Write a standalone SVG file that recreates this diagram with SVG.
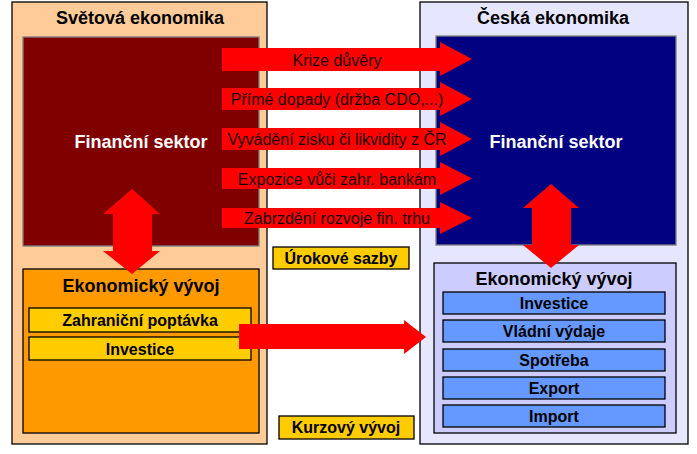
<svg xmlns="http://www.w3.org/2000/svg" width="697" height="454" viewBox="0 0 697 454">
<style>
.t{font-family:"Liberation Sans",Arial,sans-serif;text-anchor:middle}
.h{font-size:18px;font-weight:bold;fill:#000}
.w{font-size:18px;font-weight:bold;fill:#fff}
.b{font-size:16px;font-weight:bold;fill:#000}
.r{font-size:16px;fill:#1a0000}
.box{stroke:#000;stroke-width:1.3}
.arr{fill:#ff0000}
</style>
<rect width="697" height="454" fill="#fff"/>
<g id="svetova">
<rect x="12" y="2" width="255" height="442" fill="#ffcc99" class="box"/>
<text x="140" y="24" class="t h">Světová ekonomika</text>
</g>
<g id="svet-financni">
<rect x="23" y="37" width="236" height="209" fill="#800000" stroke="#808080" stroke-width="1.3"/>
<text x="141" y="148" class="t w">Finanční sektor</text>
</g>
<g id="svet-vyvoj">
<rect x="23" y="269" width="236" height="164" fill="#ff9900" class="box"/>
<text x="141" y="292" class="t h">Ekonomický vývoj</text>
</g>
<g id="zahr-poptavka">
<rect x="29" y="308" width="222" height="24" fill="#ffcc00" class="box"/>
<text x="140" y="326" class="t b">Zahraniční poptávka</text>
</g>
<g id="svet-investice">
<rect x="29" y="337" width="222" height="23" fill="#ffcc00" class="box"/>
<text x="140" y="355" class="t b">Investice</text>
</g>
<g id="ceska">
<rect x="420" y="2" width="268" height="442" fill="#e6e6ff" class="box"/>
<text x="553" y="24" class="t h">Česká ekonomika</text>
</g>
<g id="cz-financni">
<rect x="436" y="36" width="240" height="209" fill="#000080" stroke="#808080" stroke-width="1.3"/>
<text x="556" y="148" class="t w">Finanční sektor</text>
</g>
<g id="cz-vyvoj">
<rect x="434" y="263" width="242" height="170" fill="#ccccff" class="box"/>
<text x="554" y="285" class="t h">Ekonomický vývoj</text>
</g>
<g id="cz-investice">
<rect x="443" y="292" width="222" height="22" fill="#6699ff" class="box"/>
<text x="554" y="309" class="t b">Investice</text>
</g>
<g id="cz-vladni">
<rect x="443" y="320" width="222" height="22" fill="#6699ff" class="box"/>
<text x="554" y="337" class="t b">Vládní výdaje</text>
</g>
<g id="cz-spotreba">
<rect x="443" y="349" width="222" height="22" fill="#6699ff" class="box"/>
<text x="554" y="366" class="t b">Spotřeba</text>
</g>
<g id="cz-export">
<rect x="443" y="377" width="222" height="22" fill="#6699ff" class="box"/>
<text x="554" y="394" class="t b">Export</text>
</g>
<g id="cz-import">
<rect x="443" y="405" width="222" height="22" fill="#6699ff" class="box"/>
<text x="554" y="422" class="t b">Import</text>
</g>
<g id="urokove">
<rect x="273" y="247" width="136" height="22" fill="#ffcc00" class="box"/>
<text x="341" y="264" class="t b">Úrokové sazby</text>
</g>
<g id="kurzovy">
<rect x="279" y="416" width="135" height="23" fill="#ffcc00" class="box"/>
<text x="346" y="433" class="t b">Kurzový vývoj</text>
</g>
<g id="connectors">
<polygon class="arr" points="222,48 440,48 440,42 472,59 440,76 440,71 222,71"/>
<text x="337" y="66" class="t r">Krize důvěry</text>
<polygon class="arr" points="222,88 440,88 440,82 472,99 440,116 440,110 222,110"/>
<text x="337" y="105" class="t r">Přímé dopady (držba CDO,...)</text>
<polygon class="arr" points="222,128 440,128 440,122 472,139 440,156 440,150 222,150"/>
<text x="337" y="145" class="t r">Vyvádění zisku či likvidity z ČR</text>
<polygon class="arr" points="222,168 440,168 440,162 472,178.5 440,195 440,189 222,189"/>
<text x="337" y="185" class="t r">Expozice vůči zahr. bankám</text>
<polygon class="arr" points="222,208 440,208 440,202 472,218 440,234 440,228 222,228"/>
<text x="337" y="224" class="t r">Zabrzdění rozvoje fin. trhu</text>
<polygon class="arr" points="132,189 160,214 152,214 152,251 160,251 132,274 103,251 113,251 113,214 103,214"/>
<polygon class="arr" points="551,184 579,208 571,208 571,245 579,245 551,268 523,245 532,245 532,208 523,208"/>
<polygon class="arr" points="239,324 404,324 404,320 426,337 404,354 404,349 239,349"/>
</g>
</svg>
